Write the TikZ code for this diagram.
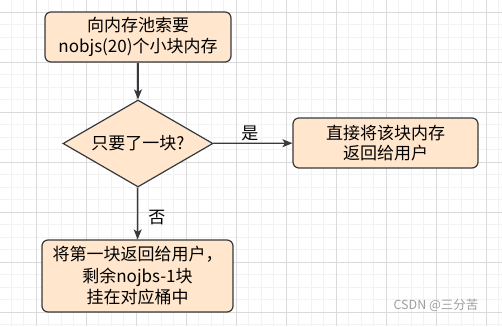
\documentclass[tikz,border=0pt]{standalone}
\usepackage{fontspec}
\setmainfont{Noto Sans CJK SC}
\usepackage{xcolor}
\definecolor{boxfill}{HTML}{FFE6CC}
\definecolor{boxline}{HTML}{36393D}
\definecolor{gridminor}{HTML}{F2F2F2}
\definecolor{gridmajor}{HTML}{DADADA}
\usetikzlibrary{arrows.meta,positioning,shapes.geometric}

\begin{document}
\begin{tikzpicture}[x=1pt,y=-1pt,
  stepbox/.style={draw=boxline,fill=boxfill,line width=1.2pt,rounded corners=6pt,
    align=center,inner sep=0,font=\fontsize{17}{20.5}\selectfont},
  choice/.style={draw=boxline,fill=boxfill,line width=1.2pt,diamond,aspect=1.72,
    inner sep=0,minimum width=150pt,minimum height=87pt,font=\fontsize{17}{20}\selectfont},
  flow/.style={draw=boxline,line width=1.2pt,-{Stealth[length=10pt,width=8pt,inset=2.5pt]}},
  lbl/.style={font=\fontsize{17}{20}\selectfont,inner sep=1pt}]
  \useasboundingbox (0,0) rectangle (502,326);
  % grid
  \foreach \x in {11,23.5,...,502} \draw[gridminor,line width=0.8pt] (\x,0) -- (\x,326);
  \foreach \y in {12,24.5,...,326} \draw[gridminor,line width=0.8pt] (0,\y) -- (502,\y);
  \foreach \x in {36,86,...,486} \draw[gridmajor,line width=0.8pt] (\x,0) -- (\x,326);
  \foreach \y in {12,62,...,312} \draw[gridmajor,line width=0.8pt] (0,\y) -- (502,\y);

  \node[stepbox,minimum width=186pt,minimum height=50pt] (ask) at (138,37)
    {向内存池索要\\nobjs(20)个小块内存};
  \node[choice] (one) at (138,143.5) {只要了一块?};
  \node[stepbox,minimum width=185pt,minimum height=50pt] (give) at (385.5,143)
    {直接将该块内存\\返回给用户};
  \node[stepbox,minimum width=191pt,minimum height=72pt,font=\fontsize{17}{21.5}\selectfont]
    (rest) at (137.5,276) {将第一块返回给用户，\\剩余nojbs-1块\\挂在对应桶中};
  \node[text=gray!75,font=\fontsize{12.5}{14}\selectfont] (mark) at (436,305) {CSDN @三分苦};

  \draw[flow] (ask) -- (one);
  \draw[flow] (one) -- (give) node[lbl,midway,above=1pt,xshift=-3pt] {是};
  \draw[flow] (one) -- (rest) node[lbl,midway,right=9pt,yshift=-4pt] {否};
\end{tikzpicture}
\end{document}
